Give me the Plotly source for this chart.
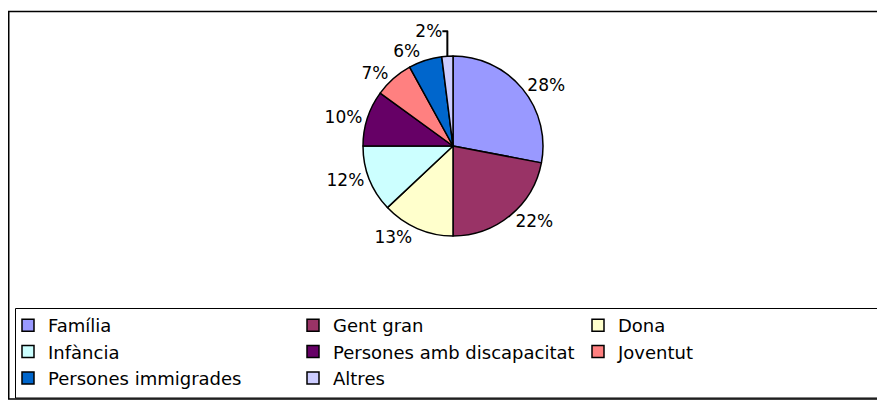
import plotly.graph_objects as go

labels = ["Família", "Gent gran", "Dona", "Infància", "Persones amb discapacitat",
          "Joventut", "Persones immigrades", "Altres"]
values = [28, 22, 13, 12, 10, 7, 6, 2]
colors = ["#9999FF", "#993366", "#FFFFCC", "#CCFFFF", "#660066",
          "#FF8080", "#0066CC", "#CCCCFF"]

# page body has an 8px margin; figure sized to fill the rest of the 885x400 window
W, H = 877, 392
FONT = "DejaVu Sans, Liberation Sans, Arial, sans-serif"


def px(x):
    return x / W


def py(y):
    return 1 - y / H


fig = go.Figure()
fig.add_trace(go.Pie(
    labels=labels,
    values=values,
    sort=False,
    direction="clockwise",
    rotation=0,
    marker=dict(colors=colors, line=dict(color="black", width=1.5)),
    texttemplate="%{value}%",
    textposition="outside",
    outsidetextfont=dict(family=FONT, size=17, color="black"),
    hoverinfo="label+value",
    domain=dict(x=[px(330), px(560)], y=[py(228), py(48)]),
))

fig.update_layout(
    width=W, height=H,
    margin=dict(l=0, r=0, t=0, b=0),
    paper_bgcolor="white",
    plot_bgcolor="white",
    font=dict(family=FONT, size=17, color="black"),
    showlegend=True,
    legend=dict(
        orientation="h",
        x=0, xanchor="left",
        y=py(299), yanchor="top",
        entrywidth=240, entrywidthmode="pixels",
        itemwidth=30,
        font=dict(family=FONT, size=18, color="black"),
        bgcolor="rgba(0,0,0,0)",
        borderwidth=0,
        traceorder="normal",
    ),
    shapes=[
        dict(type="rect", xref="paper", yref="paper",
             x0=px(0.75), x1=1.05, y0=py(391), y1=py(3.5),
             line=dict(color="black", width=1.5), fillcolor="rgba(0,0,0,0)"),
        dict(type="rect", xref="paper", yref="paper",
             x0=px(7.5), x1=px(876), y0=py(390), y1=py(300.5),
             line=dict(color="black", width=1), fillcolor="rgba(0,0,0,0)"),
    ],
)

fig.write_html("out.html")
